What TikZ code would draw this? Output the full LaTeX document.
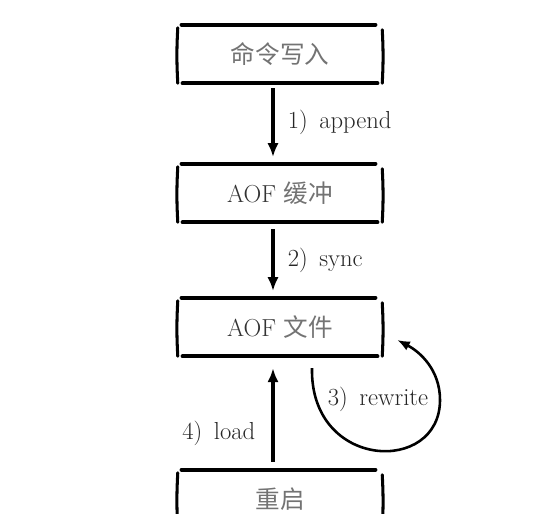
\documentclass[tikz,border=0pt]{standalone}
\usepackage{fontspec}
\newfontfamily\cjk{Noto Sans CJK SC}
\usetikzlibrary{arrows.meta}
\usetikzlibrary{positioning}

\newcommand{\zh}[1]{{\cjk\color{black!55}\fontsize{21}{24}\selectfont #1}}

\tikzset{
  stage/.style={minimum width=6.12cm, minimum height=1.74cm, inner sep=0pt, text=black!80, font=\fontsize{21}{24}\selectfont},
  edge/.style={line width=3.8pt, line cap=round},
  side/.style={line width=2.6pt, line cap=round},
  flow/.style={line width=2.8pt, -{Latex[length=0.42cm,width=0.34cm]}},
  flowlabel/.style={text=black!85, font=\fontsize{21}{24}\selectfont, inner sep=1pt}
}

\begin{document}
\begin{tikzpicture}[x=0.03cm, y=-0.03cm]
\useasboundingbox (0,0) rectangle (542,513);

\node[stage] (cmd)  at (280,54)  {\zh{命令写入}};
\node[stage] (buf)  at (280,193) {AOF \zh{缓冲}};
\node[stage] (file) at (280,327) {AOF \zh{文件}};
\node[stage] (boot) at (280,499) {\zh{重启}};

% hand drawn frames
\foreach \n in {cmd,buf,file,boot}{
  \draw[edge] ([xshift=0.12cm]\n.north west) -- ([xshift=-0.21cm]\n.north east);
  \draw[edge] ([xshift=0.15cm]\n.south west) -- ([xshift=-0.15cm]\n.south east);
  \draw[side] ([yshift=-0.09cm]\n.north west) to[bend right=3] (\n.south west);
  \draw[side] ([yshift=-0.15cm]\n.north east) to[bend left=3] (\n.south east);
}

\draw[flow] ([xshift=-0.21cm,yshift=-0.15cm]cmd.south) -- ([xshift=-0.21cm,yshift=0.2cm]buf.north)
  node[midway, right=0.36cm, flowlabel] (l1) {1)\,\ append};
\draw[flow] ([xshift=-0.21cm,yshift=-0.21cm]buf.south) -- ([xshift=-0.21cm,yshift=0.2cm]file.north)
  node[midway, right=0.36cm, flowlabel] (l2) {2)\,\ sync};
\draw[flow] ([xshift=-0.21cm,yshift=0.24cm]boot.north) -- ([xshift=-0.21cm,yshift=-0.36cm]file.south)
  node[pos=0.3, left=0.45cm, flowlabel] (l4) {4)\,\ load};

% rewrite loop
\coordinate (turn) at (440,400);
\draw[flow, line width=2.2pt, -{Latex[length=0.38cm,width=0.3cm]}]
  ([xshift=0.96cm,yshift=-0.36cm]file.south) .. controls +(-2,102) and +(0,75) .. (turn)
  .. controls +(0,-30) and +(23,12) .. ([xshift=0.45cm,yshift=-0.39cm]file.east);
\node[flowlabel] (l3) at (378,399) {3)\,\ rewrite};

\end{tikzpicture}
\end{document}
